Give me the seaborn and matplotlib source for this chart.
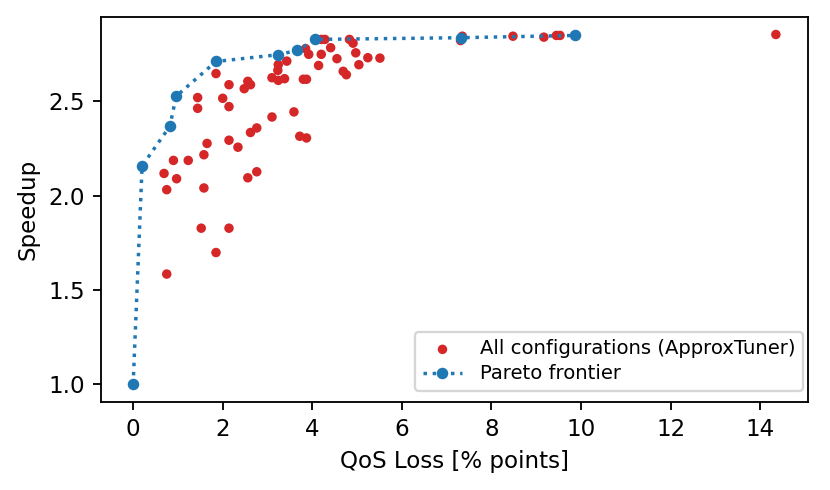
import numpy as np
import pandas as pd
import matplotlib
matplotlib.use('Agg')
import matplotlib.pyplot as plt
import seaborn as sns

# all configurations (QoS loss, speedup)
qos_loss = [1.85, 2.14, 2.56, 2.62, 2.48, 1.44, 2.00, 1.44, 2.14, 3.10,
            3.59, 3.72, 2.76, 2.62, 1.65, 1.58, 2.14, 2.34, 0.90, 1.23,
            0.69, 0.97, 0.75, 1.58, 2.56, 2.76, 1.52, 2.14, 1.85, 0.75,
            4.20, 4.28, 4.41, 4.83, 4.91, 4.20, 3.92, 3.85, 4.55, 4.97,
            5.24, 5.51, 5.04, 4.14, 4.69, 4.76, 3.24, 3.43, 3.23, 3.10,
            3.24, 3.38, 3.80, 3.87, 3.87, 7.35, 7.31, 8.48, 9.17, 9.45,
            9.53, 14.35]
speedup = [2.647, 2.588, 2.606, 2.588, 2.567, 2.520, 2.516, 2.463, 2.472, 2.417,
           2.444, 2.315, 2.359, 2.335, 2.277, 2.217, 2.294, 2.257, 2.187, 2.187,
           2.118, 2.090, 2.032, 2.041, 2.095, 2.127, 1.828, 1.828, 1.699, 1.585,
           2.828, 2.828, 2.784, 2.828, 2.808, 2.749, 2.749, 2.779, 2.726, 2.757,
           2.731, 2.729, 2.694, 2.690, 2.659, 2.641, 2.694, 2.713, 2.664, 2.625,
           2.611, 2.620, 2.617, 2.617, 2.306, 2.845, 2.822, 2.845, 2.840, 2.849,
           2.849, 2.854]

# pareto frontier
pareto_loss = [0.0, 0.20, 0.82, 0.96, 1.85, 3.24, 3.66, 4.07, 7.31, 9.87]
pareto_speedup = [1.0, 2.158, 2.368, 2.527, 2.711, 2.747, 2.770, 2.828, 2.837, 2.849]

df = pd.DataFrame({'loss': qos_loss, 'speedup': speedup})
pf = pd.DataFrame({'loss': pareto_loss, 'speedup': pareto_speedup})

fig = plt.figure(figsize=(5, 490 / 166), dpi=166)
ax = fig.add_axes([0.1217, 0.1796, 0.8518, 0.7857])

sns.scatterplot(x='loss', y='speedup', data=df, ax=ax, color='tab:red',
                s=17, edgecolor='none', linewidth=0,
                label='All configurations (ApproxTuner)', zorder=2)
sns.lineplot(x='loss', y='speedup', data=pf, ax=ax, color='tab:blue',
             linestyle=':', marker='o', markersize=5, markeredgewidth=0,
             linewidth=1.5, sort=False, label='Pareto frontier', zorder=3)

ax.set_xlabel('QoS Loss [% points]')
ax.set_ylabel('Speedup')
ax.set_xticks([0, 2, 4, 6, 8, 10, 12, 14])
ax.set_yticks([1.0, 1.5, 2.0, 2.5])
ax.legend(loc='lower right', fontsize=8.5, bbox_to_anchor=(0.993, 0.028),
          borderaxespad=0, labelspacing=0.3, handletextpad=0.9)

fig.savefig('out.png', dpi=166)
